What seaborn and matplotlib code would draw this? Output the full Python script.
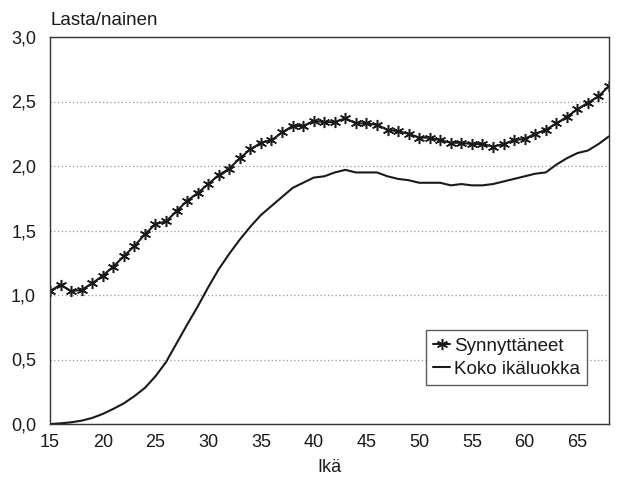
import matplotlib
matplotlib.use("Agg")
import matplotlib.pyplot as plt
import seaborn as sns
import pandas as pd
from matplotlib.ticker import FuncFormatter

# ages 15..68
ika = list(range(15, 69))

synnyttaneet = [1.03, 1.08, 1.03, 1.04, 1.09, 1.15, 1.22, 1.30, 1.38, 1.47,
                1.55, 1.57, 1.65, 1.73, 1.79, 1.86, 1.93, 1.98, 2.06, 2.13,
                2.18, 2.20, 2.26, 2.31, 2.31, 2.35, 2.34, 2.34, 2.37, 2.33,
                2.33, 2.32, 2.28, 2.27, 2.25, 2.22, 2.22, 2.20, 2.18, 2.18,
                2.17, 2.17, 2.15, 2.17, 2.20, 2.21, 2.25, 2.28, 2.33, 2.38,
                2.44, 2.49, 2.54, 2.62]

koko_ikaluokka = [0.00, 0.005, 0.013, 0.026, 0.047, 0.078, 0.117, 0.16, 0.216, 0.28,
                  0.37, 0.48, 0.625, 0.77, 0.91, 1.06, 1.20, 1.32, 1.43, 1.53,
                  1.62, 1.69, 1.76, 1.83, 1.87, 1.91, 1.92, 1.95, 1.97, 1.95,
                  1.95, 1.95, 1.92, 1.90, 1.89, 1.87, 1.87, 1.87, 1.85, 1.86,
                  1.85, 1.85, 1.86, 1.88, 1.90, 1.92, 1.94, 1.95, 2.01, 2.06,
                  2.10, 2.12, 2.17, 2.23]

y_ticks = [0.0, 0.5, 1.0, 1.5, 2.0, 2.5, 3.0]
x_ticks = [15, 20, 25, 30, 35, 40, 45, 50, 55, 60, 65]

df = pd.DataFrame({"ika": ika, "synn": synnyttaneet, "koko": koko_ikaluokka})

sns.set_theme(style="white")
plt.rcParams["font.family"] = ["Liberation Sans", "DejaVu Sans"]

fig = plt.figure(figsize=(6.19, 4.8), dpi=100)
ax = fig.add_axes([50 / 619, 56 / 480, 559 / 619, 387 / 480])

ink = "#1a1a1a"
sns.lineplot(data=df, x="ika", y="synn", ax=ax, color=ink, linewidth=1.5,
             marker=(6, 2, 0), markersize=8, markeredgewidth=1.1,
             markeredgecolor=ink, label="Synnyttäneet")
sns.lineplot(data=df, x="ika", y="koko", ax=ax, color=ink, linewidth=1.5,
             label="Koko ikäluokka")

ax.set_xlim(15, 68)
ax.set_ylim(0, 3.0)
ax.set_xticks(x_ticks)
ax.set_yticks(y_ticks)
ax.yaxis.set_major_formatter(FuncFormatter(lambda v, p: f"{v:.1f}".replace(".", ",")))
ax.tick_params(length=0, labelsize=13, colors=ink, pad=7)
ax.tick_params(axis="y", pad=10)
ax.yaxis.grid(True, linestyle=(0, (1, 2)), color="#9a9a9a", linewidth=0.9)
ax.xaxis.grid(False)
for s in ax.spines.values():
    s.set_color("#333333")
    s.set_linewidth(1.0)

ax.set_xlabel("Ikä", fontsize=13, color=ink, labelpad=6)
ax.set_ylabel("")
ax.text(0.0, 1.02, "Lasta/nainen", transform=ax.transAxes, fontsize=13.5,
        color=ink, ha="left", va="bottom")

leg = ax.legend(loc="lower right", bbox_to_anchor=(0.961, 0.10), fontsize=13.5,
                frameon=True, fancybox=False, edgecolor="#333333",
                handlelength=0.9, handletextpad=0.2, borderpad=0.4,
                labelspacing=0.3, borderaxespad=0)
leg.get_frame().set_linewidth(1.0)
for t in leg.get_texts():
    t.set_color(ink)

fig.savefig("out.png", dpi=100)
